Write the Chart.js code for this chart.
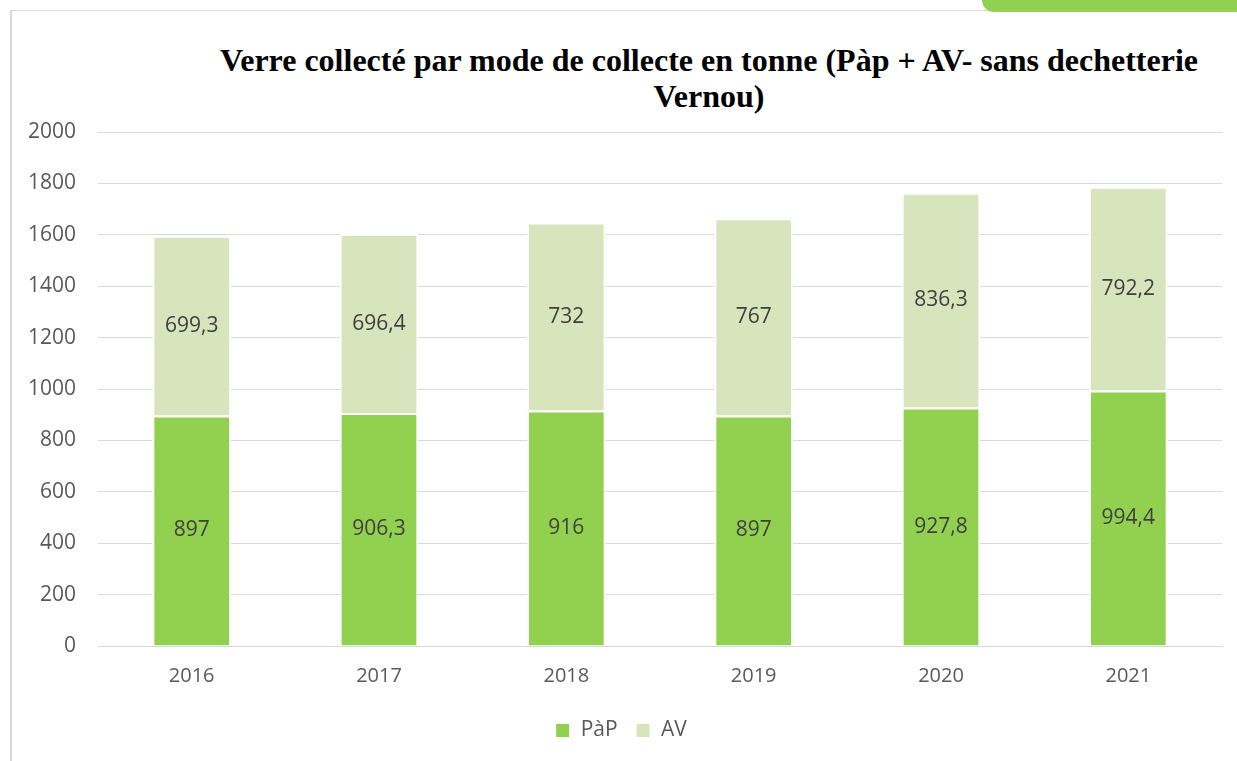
<!DOCTYPE html>
<html lang="fr">
<head>
    <meta charset="UTF-8">
    <title>Verre collecté par mode de collecte</title>
    <script src="https://cdn.jsdelivr.net/npm/chart.js"></script>
    <style>
        html, body { margin: 0; padding: 0; background: #fff; }
        .page { position: relative; width: 1237px; height: 761px; overflow: hidden; }
        .frame { position: absolute; left: 10px; top: 10px; width: 1300px; height: 800px;
                 border-left: 2px solid #d9d9d9; border-top: 1px solid #d9d9d9; }
        .tab { position: absolute; left: 982px; top: -20px; width: 300px; height: 32px;
               background: #92d050; border-radius: 12px; }
        .title { position: absolute; left: 159px; width: 1100px; top: 42px; text-align: center;
                 font-family: "Liberation Serif", "DejaVu Serif", serif; font-weight: bold;
                 font-size: 32px; line-height: 36px; color: #000; white-space: nowrap; }
        canvas { position: absolute; left: 0; top: 0; }
    </style>
</head>
<body>
<div class="page">
    <div class="frame"></div>
    <div class="tab"></div>
    <div class="title">Verre collecté par mode de collecte en tonne (Pàp + AV- sans dechetterie<br>Vernou)</div>
    <canvas id="chart" width="1237" height="761"></canvas>
</div>
<script>
    // values
    const years = ['2016', '2017', '2018', '2019', '2020', '2021'];
    const papValues = [897, 906.3, 916, 897, 927.8, 994.4];
    const avValues = [699.3, 696.4, 732, 767, 836.3, 792.2];

    const fmt = v => String(v).replace('.', ',');

    // draw the value in the middle of each bar segment
    const segmentLabels = {
        id: 'segmentLabels',
        afterDatasetsDraw(chart) {
            const ctx = chart.ctx;
            ctx.save();
            ctx.font = '21px "Open Sans", sans-serif';
            ctx.fillStyle = '#404040';
            ctx.textAlign = 'center';
            ctx.textBaseline = 'middle';
            chart.data.datasets.forEach((ds, i) => {
                chart.getDatasetMeta(i).data.forEach((bar, j) => {
                    const mid = (bar.y + bar.base) / 2;
                    ctx.fillText(fmt(ds.data[j]), bar.x, mid);
                });
            });
            ctx.restore();
        }
    };

    new Chart(document.getElementById('chart'), {
        type: 'bar',
        data: {
            labels: years,
            datasets: [
                { label: 'PàP', data: papValues, backgroundColor: '#92d050',
                  borderColor: '#ffffff', borderWidth: 2 },
                { label: 'AV', data: avValues, backgroundColor: '#d8e4bc',
                  borderColor: '#ffffff', borderWidth: 2 }
            ]
        },
        options: {
            responsive: false,
            animation: false,
            layout: { padding: { left: 20, right: 15, top: 132, bottom: 10 } },
            datasets: { bar: { categoryPercentage: 1, barPercentage: 0.42 } },
            scales: {
                x: {
                    stacked: true,
                    grid: { display: false },
                    border: { color: '#d9d9d9', width: 1 },
                    ticks: { color: '#595959', font: { family: 'Open Sans', size: 20 }, padding: 10 },
                    afterFit(scale) { scale.height += 4; }
                },
                y: {
                    stacked: true,
                    min: 0, max: 2000,
                    grid: { color: '#d9d9d9', drawTicks: false },
                    border: { display: false },
                    ticks: { stepSize: 200, color: '#595959', font: { family: 'Open Sans', size: 21 }, padding: 22,
                             callback: v => String(v) },
                    afterFit(scale) { scale.width = 78; }
                }
            },
            plugins: {
                legend: {
                    position: 'bottom',
                    labels: { boxWidth: 15, boxHeight: 15, color: '#595959', padding: 18,
                              font: { family: 'Open Sans', size: 21 } }
                },
                tooltip: { enabled: false }
            }
        },
        plugins: [segmentLabels]
    });
</script>
</body>
</html>
